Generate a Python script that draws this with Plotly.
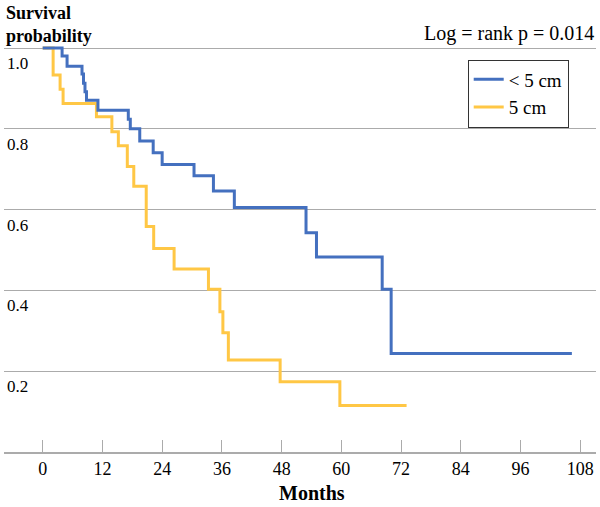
import plotly.graph_objects as go

# ---- data ----
blue_name = "< 5 cm"
blue_months = [0, 3.9, 4.9, 7.9, 8.2, 8.5, 8.8, 11.1, 17.2, 17.6, 19.5, 22.2, 24.0, 30.4, 34.3, 38.5, 52.9, 55.0, 68.2, 70.0, 106.3]
blue_surv = [1.0, 0.980, 0.955, 0.936, 0.913, 0.892, 0.871, 0.846, 0.824, 0.800, 0.770, 0.741, 0.712, 0.684, 0.646, 0.605, 0.543, 0.483, 0.403, 0.244, 0.244]

yellow_name = "5 cm"
yellow_months = [0, 2.1, 3.5, 4.1, 10.8, 13.9, 15.2, 17.0, 18.3, 20.8, 22.3, 26.4, 33.3, 35.6, 36.2, 37.3, 47.7, 59.7, 73.1]
yellow_surv = [1.0, 0.933, 0.898, 0.863, 0.830, 0.793, 0.758, 0.707, 0.658, 0.558, 0.504, 0.453, 0.403, 0.347, 0.295, 0.228, 0.174, 0.115, 0.115]

x_ticks = [0, 12, 24, 36, 48, 60, 72, 84, 96, 108]
y_ticks = [0.2, 0.4, 0.6, 0.8, 1.0]
y_tick_labels = ["0.2", "0.4", "0.6", "0.8", "1.0"]

y_title = "Survival<br>probability"
x_title = "Months"
pvalue_text = "Log = rank p = 0.014"

FONT = "Liberation Serif, DejaVu Serif, serif"
BLUE = "#4470BF"
YELLOW = "#FFC745"
GRID = "#ABABAB"

fig = go.Figure()
fig.add_trace(go.Scatter(x=yellow_months, y=yellow_surv, mode="lines", name=yellow_name,
                         line=dict(color=YELLOW, width=3, shape="hv"), legendrank=2))
fig.add_trace(go.Scatter(x=blue_months, y=blue_surv, mode="lines", name=blue_name,
                         line=dict(color=BLUE, width=3, shape="hv"), legendrank=1))

fig.update_layout(
    width=600, height=507,
    margin=dict(l=4, r=4, t=44, b=55, autoexpand=False),
    paper_bgcolor="white", plot_bgcolor="white",
    font=dict(family=FONT, color="black"),
    showlegend=True,
    legend=dict(x=0.7833, y=0.962, xanchor="left", yanchor="top",
                bordercolor="#333333", borderwidth=1, bgcolor="white",
                font=dict(family=FONT, size=19, color="black"), tracegroupgap=0),
    xaxis=dict(range=[-7.77, 111.15], tickvals=x_ticks, ticks="inside", ticklen=12,
               tickcolor=GRID, tickwidth=1, showline=True, linecolor=GRID, linewidth=1.5,
               showgrid=False, zeroline=False,
               tickfont=dict(family=FONT, size=18, color="black")),
    yaxis=dict(range=[0, 1.01], tickvals=y_ticks, ticktext=y_tick_labels,
               ticklabelposition="inside", ticklabelshift=15, ticklabelstandoff=0,
               showgrid=True, gridcolor=GRID, gridwidth=1, zeroline=False,
               showline=False, ticks="", tickfont=dict(family=FONT, size=17, color="black")),
)

fig.add_annotation(text="<b>%s</b>" % y_title, xref="paper", yref="paper",
                   x=0, y=1.0471, xanchor="left", yanchor="middle", align="left",
                   showarrow=False, font=dict(family=FONT, size=18))
fig.add_annotation(text=pvalue_text, xref="paper", yref="paper",
                   x=1.0, y=1.0262, xanchor="right", yanchor="middle", showarrow=False,
                   font=dict(family=FONT, size=20))
fig.add_annotation(text="<b>%s</b>" % x_title, xref="x", yref="paper",
                   x=54, y=-0.1015, xanchor="center", yanchor="middle", showarrow=False,
                   font=dict(family=FONT, size=20))

fig.write_html("out.html", config={"displayModeBar": False},
               post_script="document.body.style.margin='0';")
